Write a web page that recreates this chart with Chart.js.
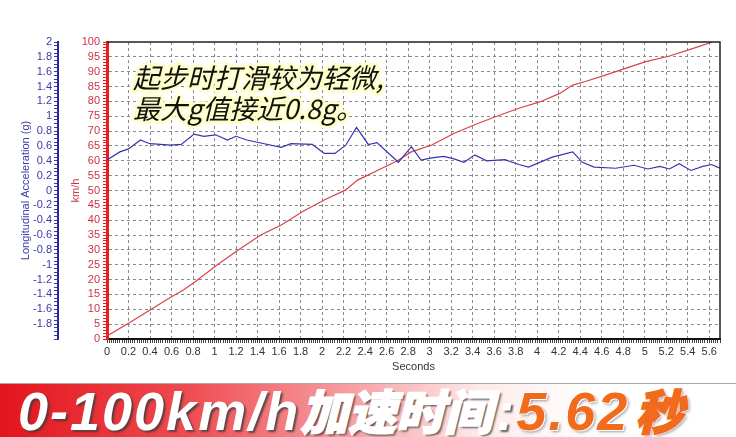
<!DOCTYPE html>
<html>
<head>
<meta charset="utf-8">
<script src="https://cdn.jsdelivr.net/npm/chart.js@4/dist/chart.umd.min.js"></script>
<style>
	body { margin: 0; background: #fff; width: 736px; height: 437px; overflow: hidden; }
	#wrap { position: relative; width: 736px; height: 383px; }
	#banner {
		position: relative; width: 736px; height: 53px; overflow: hidden;
		border-top: 1px solid #aaa;
		background: linear-gradient(to right, #e3141c 0%, #ee4a50 25%, #f7a9ab 50%, #fde9e9 65%, #ffffff 80%);
		white-space: nowrap;
	}
	#banner .t {
		position: absolute; left: 18px; top: -2px;
		font-family: "Liberation Sans", Arial, sans-serif;
		font-weight: bold; font-style: italic; font-size: 54px; line-height: 54px;
	}
	#banner .lat { letter-spacing: 2px; }
	#banner .cjk { font-family: "Noto Sans CJK SC", sans-serif; font-size: 48px; font-weight: 900; }
	#banner .w { color: #fff; text-shadow: 2px 2px 2px rgba(60,60,60,0.8); }
	#banner .cjk.w { -webkit-text-stroke: 1.5px #fff; }
	#banner .colon { margin-left: 4px; margin-right: 2px; }
	#banner .o { color: #f26a1b; text-shadow: 1px 1px 0 #fff, -1px -1px 0 #fff, 2px 2px 3px rgba(90,90,90,0.6); }
	#banner .cjk.o { -webkit-text-stroke: 1.5px #f26a1b; margin-left: 6px; }
</style>
</head>
<body>
<div id="wrap"><canvas id="accelChart"></canvas></div>
<div id="banner"><div class="t"><span class="w lat">0-100km/h</span><span class="w cjk">加速时间</span><span class="w colon">:</span><span class="o lat">5.62</span><span class="o cjk">秒</span></div></div>
<script>
// 速度 (km/h)
const speedTime = [0, 0.2, 0.4, 0.6, 0.71, 0.82, 1.01, 1.21, 1.43, 1.62, 1.82, 2.02, 2.22, 2.33, 2.5, 2.7, 2.83, 3.02, 3.23, 3.43, 3.63, 3.83, 4.03, 4.21, 4.33, 4.44, 4.62, 4.82, 5.01, 5.23, 5.43, 5.63];
const speedValues = [1, 5.3, 9.8, 14.2, 16.5, 19.3, 24.6, 29.7, 35, 38.4, 42.9, 46.8, 50.2, 53.5, 56.5, 60, 63, 65.3, 69.3, 72.3, 75.1, 77.7, 79.9, 82.7, 85.5, 86.6, 88.7, 91.1, 93.4, 95.3, 97.6, 100];

// 纵向加速度 (g)
const accelTime = [0, 0.12, 0.2, 0.31, 0.4, 0.59, 0.69, 0.81, 0.9, 1.01, 1.12, 1.2, 1.3, 1.43, 1.62, 1.71, 1.91, 2.02, 2.12, 2.22, 2.32, 2.43, 2.51, 2.71, 2.83, 2.92, 3.02, 3.13, 3.22, 3.32, 3.42, 3.53, 3.7, 3.83, 3.92, 4.14, 4.33, 4.42, 4.53, 4.73, 4.9, 5.03, 5.14, 5.23, 5.32, 5.43, 5.54, 5.62, 5.7];
const accelValues = [0.41, 0.52, 0.56, 0.68, 0.63, 0.61, 0.62, 0.76, 0.73, 0.75, 0.68, 0.73, 0.68, 0.64, 0.58, 0.63, 0.62, 0.5, 0.5, 0.61, 0.85, 0.62, 0.645, 0.38, 0.59, 0.41, 0.44, 0.46, 0.43, 0.38, 0.48, 0.4, 0.415, 0.35, 0.315, 0.45, 0.52, 0.38, 0.315, 0.3, 0.34, 0.29, 0.325, 0.29, 0.36, 0.27, 0.325, 0.35, 0.3];

const xRange = [0, 5.7];
const gRange = [-2, 2];
const kmhRange = [0, 100];

const noteLines = ["起步时打滑较为轻微,", "最大g值接近0.8g。"];

const isStep = (v, s) => Math.abs(v / s - Math.round(v / s)) < 1e-6;
const fmt = v => String(Math.round(v * 10) / 10);

// 注释文字 + 外框
const notePlugin = {
	id: 'note',
	afterDraw(chart) {
		const ctx = chart.ctx;
		const a = chart.chartArea;
		ctx.save();
		ctx.strokeStyle = '#222';
		ctx.lineWidth = 1.5;
		ctx.beginPath();
		ctx.moveTo(a.left, a.top);
		ctx.lineTo(a.right, a.top);
		ctx.lineTo(a.right, a.bottom);
		ctx.stroke();

		ctx.font = "italic 27px 'Noto Sans CJK SC'";
		ctx.textBaseline = 'middle';
		noteLines.forEach((t, i) => {
			const y = 78 + i * 31;
			ctx.lineJoin = 'round';
			ctx.strokeStyle = 'rgba(255,255,200,0.95)';
			ctx.lineWidth = 6;
			ctx.strokeText(t, 133, y);
			ctx.fillStyle = '#111';
			ctx.fillText(t, 133, y);
		});
		ctx.restore();
	}
};

new Chart(document.querySelector("#accelChart"), {
	type: 'line',
	data: {
		datasets: [{
			label: 'Longitudinal Acceleration (g)',
			data: accelTime.map((t, i) => ({ x: t, y: accelValues[i] })),
			yAxisID: 'yg',
			borderColor: '#3535b0',
			borderWidth: 1.2,
			pointRadius: 0,
			tension: 0
		}, {
			label: 'km/h',
			data: speedTime.map((t, i) => ({ x: t, y: speedValues[i] })),
			yAxisID: 'yv',
			borderColor: '#d9414a',
			borderWidth: 1.2,
			pointRadius: 0,
			tension: 0
		}]
	},
	options: {
		responsive: true,
		maintainAspectRatio: false,
		animation: false,
		layout: { padding: { top: 42, right: 16, left: 0, bottom: 0 } },
		plugins: { legend: { display: false }, tooltip: { enabled: false } },
		scales: {
			x: {
				type: 'linear',
				min: xRange[0],
				max: xRange[1],
				afterFit: s => { s.height = 44; },
				ticks: {
					stepSize: 0.02,
					autoSkip: false,
					maxRotation: 0,
					padding: 2,
					color: '#333',
					font: { family: 'Liberation Sans', size: 11 },
					callback: v => isStep(v, 0.2) ? fmt(v) : ''
				},
				grid: {
					color: c => isStep(c.tick.value, 0.2) && c.tick.value > 0 ? '#8a8a8a' : 'rgba(0,0,0,0)',
					tickColor: '#444',
					tickLength: 4,
					lineWidth: 1
				},
				border: { color: '#111', width: 2, dash: [3, 3] },
				title: { display: true, text: 'Seconds', color: '#333', font: { family: 'Liberation Sans', size: 11 }, padding: { top: 0, bottom: 9 } }
			},
			yg: {
				type: 'linear',
				position: 'left',
				weight: 1,
				min: gRange[0],
				max: gRange[1],
				afterFit: s => { s.width = 58; },
				ticks: {
					stepSize: 0.05,
					autoSkip: false,
					padding: 2,
					color: '#3a3aa8',
					font: { family: 'Liberation Sans', size: 11 },
					callback: v => isStep(v, 0.2) && v > -1.99 ? fmt(v) : ''
				},
				grid: { drawOnChartArea: false, tickColor: '#3a3aa8', tickLength: 4 },
				border: { color: '#2a2aa0', width: 2 },
				title: { display: true, text: 'Longitudinal Acceleration (g)', color: '#3a3aa8', font: { family: 'Liberation Sans', size: 11 }, padding: { top: 19, bottom: 0 } }
			},
			yv: {
				type: 'linear',
				position: 'left',
				weight: 0,
				min: kmhRange[0],
				max: kmhRange[1],
				afterFit: s => { s.width = 49; },
				ticks: {
					stepSize: 1,
					autoSkip: false,
					padding: 3,
					color: '#cc3344',
					font: { family: 'Liberation Sans', size: 11 },
					callback: v => isStep(v, 5) ? fmt(v) : ''
				},
				grid: {
					color: c => isStep(c.tick.value, 5) && c.tick.value > 0 && c.tick.value < 100 ? '#8a8a8a' : 'rgba(0,0,0,0)',
					tickColor: '#e02020',
					tickLength: 4,
					lineWidth: 1
				},
				border: { color: '#ee1c1c', width: 3, dash: [3, 3] },
				title: { display: true, text: 'km/h', color: '#cc3344', font: { family: 'Liberation Sans', size: 11 }, padding: { top: 11, bottom: 0 } }
			}
		}
	},
	plugins: [notePlugin]
});
</script>
</body>
</html>
